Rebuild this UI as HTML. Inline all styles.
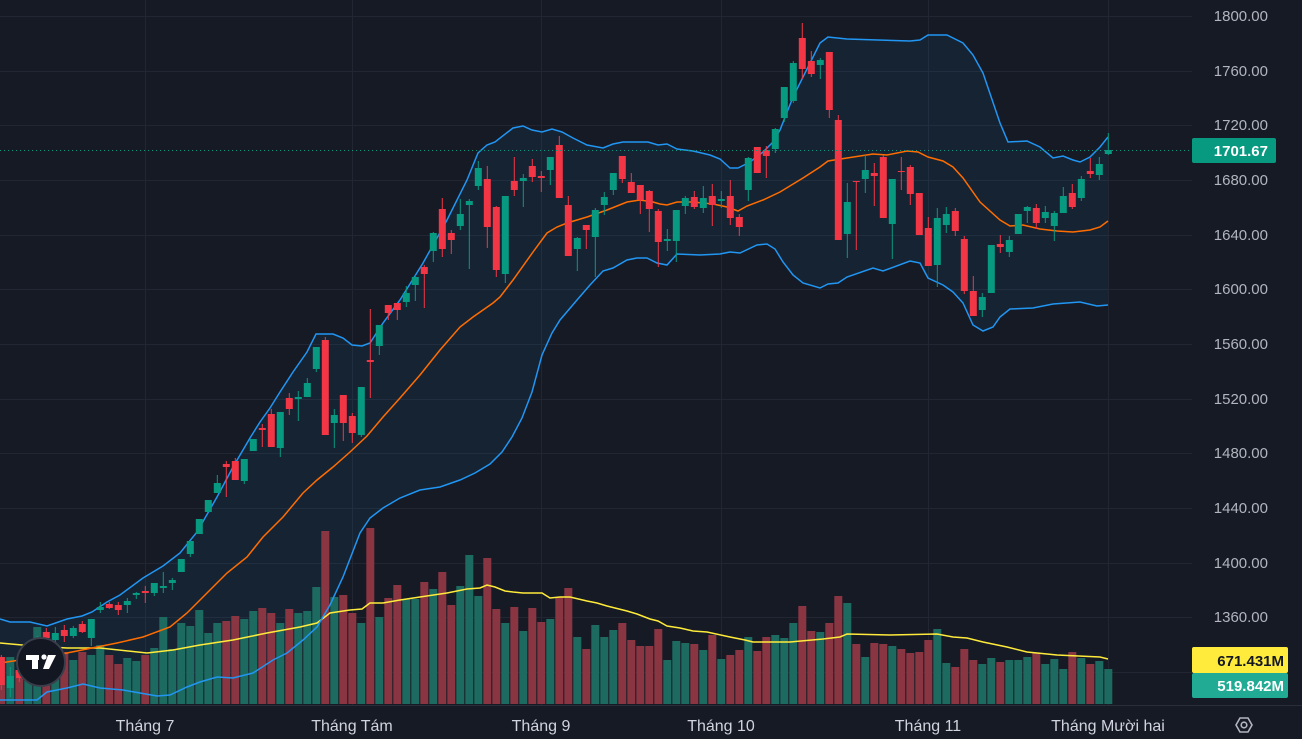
<!DOCTYPE html>
<html><head><meta charset="utf-8"><style>
html,body{margin:0;padding:0;background:#161a25;width:1302px;height:739px;overflow:hidden}
svg{display:block}
text{font-family:"Liberation Sans",sans-serif}
</style></head><body>
<svg id="s" width="1302" height="739" xmlns="http://www.w3.org/2000/svg"></svg>
<script>
const C=[
['r',657,685,655,690],['g',676,688,667,697],['r',670,678,665,682],['g',655,666,650,670],['g',640,652,636,656],['r',632,638,628,642],['g',633,640,627,642],['r',630,636,625,642],['g',628,636,626,638],['r',624,632,621,633],
['g',619,638,619,646],['g',607,610,602,613],['r',604,608,602,609],['r',605,610,602,615],['g',601,605,598,613],['g',593,595,592,599],['r',591,593,586,603],['g',583,593,583,596],['g',586,588,572,593],['g',580,583,578,590],
['g',559,572,559,572],['g',541,554,541,557],['g',519,534,519,534],['g',500,512,500,512],['g',483,493,475,493],['r',464,467,461,497],['r',461,480,458,480],['g',459,481,459,484],['g',439,451,439,451],['r',428,430,424,447],
['r',414,447,409,447],['g',412,448,412,457],['r',398,409,393,415],['g',397,399,391,421],['g',383,397,378,397],['g',347,369,347,372],['r',340,435,337,435],['g',415,423,409,448],['r',395,423,395,441],['r',416,433,413,443],
['g',387,435,387,437],['r',360,362,309,398],['g',325,346,325,355],['r',305,313,305,320],['r',303,310,303,320],['g',293,302,286,307],['g',277,285,275,301],['r',267,274,265,308],['g',233,251,232,262],['r',209,249,198,257],
['r',233,240,230,254],['g',214,226,199,230],['g',201,205,199,269],['g',168,186,161,190],['r',179,227,166,248],['r',207,270,206,277],['g',196,274,196,283],['r',181,190,157,196],['g',178,181,174,207],['r',166,177,159,182],
['r',176,178,171,192],['g',157,170,157,185],['r',145,198,136,198],['r',205,256,196,256],['g',238,249,237,271],['r',225,230,225,249],['g',210,237,208,277],['g',197,205,192,215],['g',173,190,173,195],['r',156,179,156,183],
['r',182,193,173,193],['r',185,200,185,214],['r',191,209,190,232],['r',211,242,209,267],['g',239,241,229,251],['g',210,241,210,262],['g',198,206,196,214],['r',197,207,191,209],['g',198,208,186,213],['r',196,205,184,226],
['g',199,201,191,208],['r',196,218,180,225],['r',217,227,214,236],['g',158,190,157,201],['r',147,173,147,173],['r',150,156,146,178],['g',129,149,128,153],['g',87,118,87,122],['g',63,101,61,103],['r',38,69,23,79],
['r',61,74,51,77],['g',60,65,58,79],['r',52,110,52,118],['r',120,240,115,240],['g',202,234,183,258],['r',181,182,181,250],['g',170,179,155,193],['r',173,176,163,206],['r',157,218,155,218],['g',179,224,179,259],
['r',171,172,157,190],['r',167,194,165,205],['r',193,235,193,235],['r',228,266,217,266],['g',218,265,208,287],['g',214,225,207,233],['r',211,231,208,236],['r',239,291,236,294],['r',291,316,276,316],['g',297,310,293,317],
['g',245,293,245,293],['r',244,247,235,253],['g',240,252,236,257],['g',214,234,214,234],['g',207,211,206,223],['r',208,223,204,229],['g',212,218,206,223],['g',213,226,211,241],['g',196,213,187,213],['r',193,207,184,209],
['g',179,198,176,201],['r',171,174,158,178],['g',164,175,157,180],['g',150,154,133,155]];
const V=[657,657,670,665,627,640,650,652,660,652,655,645,655,664,658,661,655,648,617,649,623,626,610,633,623,621,616,619,611,608,613,623,609,613,611,587,531,597,595,613,623,528,617,598,585,599,599,582,589,572,605,586,555,596,558,609,623,607,631,608,622,619,597,588,637,649,625,637,630,623,640,646,646,629,660,641,643,644,650,635,659,655,650,
637,651,637,635,638,623,606,631,632,623,596,603,644,657,643,644,646,649,653,652,640,629,663,667,649,660,664,658,662,660,660,657,653,664,659,669,652,658,664,661,669];
const up=[[0,619],[10,622],[30,622],[47,626],[67,619],[82,616],[92,612],[107,602],[120,595],[143,578],[163,566],[180,553],[197,532],[217,497],[233,467],[250,438],[260,422],[270,408],[280,392],[293,372],[307,352],[316,334],[333,334],[343,338],[352,345],[362,346],[370,343],[383,323],[400,300],[423,263],[447,220],[467,180],[478,153],[487,145],[495,142],[513,128],[523,126],[532,130],[542,132],[552,129],[562,132],[573,138],[587,145],[603,148],[613,144],[623,142],[648,142],[658,145],[667,144],[677,149],[693,151],[710,155],[720,159],[730,168],[738,168],[750,162],[763,152],[772,143],[780,130],[793,97],[820,43],[828,37],[847,39],[910,41],[920,40],[928,35],[947,35],[963,43],[973,55],[983,73],[1000,123],[1008,142],[1027,141],[1040,147],[1053,158],[1063,156],[1073,160],[1080,162],[1090,157],[1100,147],[1108,137]];
const lo=[[0,700],[37,700],[47,692],[67,688],[83,684],[100,688],[123,690],[140,693],[157,696],[170,695],[187,687],[200,682],[217,677],[233,678],[253,673],[273,660],[287,653],[303,640],[317,627],[330,605],[343,577],[360,533],[370,518],[383,508],[400,498],[420,490],[440,487],[460,480],[475,473],[490,464],[502,452],[512,437],[522,418],[532,392],[542,355],[552,333],[560,320],[577,300],[590,285],[603,271],[613,268],[627,260],[637,258],[647,258],[657,263],[667,265],[677,254],[700,255],[720,254],[730,252],[740,253],[757,245],[767,244],[775,249],[783,262],[793,275],[803,283],[820,288],[828,284],[838,283],[847,277],[873,268],[883,271],[910,261],[920,263],[928,278],[943,285],[953,292],[963,303],[973,325],[983,331],[993,327],[1000,317],[1010,309],[1033,308],[1053,304],[1080,302],[1097,306],[1108,305]];
const mid=[[0,663],[20,660],[67,653],[117,643],[143,637],[170,627],[187,613],[207,593],[227,573],[247,557],[263,537],[283,517],[303,493],[317,480],[333,467],[350,452],[367,436],[383,417],[400,398],[420,375],[440,350],[460,327],[473,317],[493,303],[500,297],[513,280],[533,252],[547,233],[557,227],[567,223],[587,217],[607,210],[627,202],[640,200],[653,202],[660,204],[667,205],[677,202],[693,202],[713,204],[727,207],[738,211],[747,206],[763,200],[780,192],[803,178],[820,167],[828,161],[847,158],[873,154],[887,155],[907,151],[918,152],[928,157],[943,161],[953,167],[963,178],[980,202],[1000,220],[1010,226],[1023,225],[1040,229],[1057,231],[1073,232],[1090,230],[1100,227],[1108,221]];
const vma=[[0,643],[33,646],[67,648],[100,648],[147,653],[173,650],[200,645],[233,640],[267,633],[300,627],[317,623],[330,613],[350,610],[362,609],[370,603],[383,603],[400,600],[420,597],[447,593],[467,589],[480,588],[487,585],[495,587],[505,591],[513,592],[523,593],[542,593],[550,598],[560,597],[570,597],[587,601],[597,603],[607,606],[627,611],[637,614],[650,619],[658,621],[667,626],[680,628],[693,631],[707,632],[730,637],[745,640],[753,642],[790,642],[823,639],[840,637],[847,634],[890,635],[937,634],[953,637],[967,638],[983,642],[1007,647],[1027,652],[1057,655],[1100,657],[1108,659]];
let h='';
const pts=a=>a.map(p=>p[0]+','+p[1]).join(' ');
// grid
const py=[16,71,125,180,235,289,344,399,453,508,563,617,672];
py.forEach(y=>h+=`<line x1="0" x2="1192" y1="${y+.5}" y2="${y+.5}" stroke="#222632" stroke-width="1"/>`);
[145,352,541,721,928,1108].forEach(x=>h+=`<line x1="${x+.5}" x2="${x+.5}" y1="0" y2="705" stroke="#222632" stroke-width="1"/>`);
// band fill
h+=`<polygon points="${pts(up)} ${pts(lo.slice().reverse())}" fill="rgba(33,150,243,0.07)"/>`;
// volume
V.forEach((t,i)=>{const x=1108.3-9*(123-i);const col=C[i][0]=='g'?'#1d6b60':'#8a3542';h+=`<rect x="${(x-4).toFixed(1)}" y="${t}" width="8" height="${704-t}" fill="${col}"/>`;});
h+=`<polyline points="${pts(vma)}" fill="none" stroke="#ffeb3b" stroke-width="1.5"/>`;
h+=`<polyline points="${pts(up)}" fill="none" stroke="#2196f3" stroke-width="1.5"/>`;
h+=`<polyline points="${pts(lo)}" fill="none" stroke="#2196f3" stroke-width="1.5"/>`;
h+=`<polyline points="${pts(mid)}" fill="none" stroke="#ff6d00" stroke-width="1.5"/>`;
// candles
C.forEach((c,i)=>{const x=1108.3-9*(123-i);const col=c[0]=='g'?'#089981':'#f23645';
h+=`<line x1="${x.toFixed(1)}" x2="${x.toFixed(1)}" y1="${c[3]}" y2="${c[4]}" stroke="${col}" stroke-width="1"/>`;
h+=`<rect x="${(x-3.5).toFixed(1)}" y="${c[1]}" width="7" height="${Math.max(1,c[2]-c[1])}" fill="${col}"/>`;});
// last price line
h+=`<line x1="0" x2="1192" y1="150.5" y2="150.5" stroke="#089981" stroke-width="1" stroke-dasharray="1,3"/>`;
// axis area
h+=`<rect x="1192" y="0" width="110" height="739" fill="#161a25"/>`;
h+=`<line x1="0" x2="1302" y1="705.5" y2="705.5" stroke="#2a2e39"/>`;
const lab=['1800.00','1760.00','1720.00','1680.00','1640.00','1600.00','1560.00','1520.00','1480.00','1440.00','1400.00','1360.00'];
lab.forEach((l,k)=>h+=`<text x="1268" y="${py[k]+5}" text-anchor="end" font-size="15" fill="#b2b5be">${l}</text>`);
h+=`<rect x="1192" y="138" width="84" height="25" rx="2" fill="#089981"/><text x="1268" y="156" text-anchor="end" font-size="15" font-weight="bold" fill="#fff">1701.67</text>`;
h+=`<rect x="1192" y="647" width="96" height="26" rx="2" fill="#ffeb3b"/><text x="1284" y="666" text-anchor="end" font-size="15" font-weight="bold" fill="#131722">671.431M</text>`;
h+=`<rect x="1192" y="673" width="96" height="25" rx="2" fill="#22ab94"/><text x="1284" y="691" text-anchor="end" font-size="15" font-weight="bold" fill="#fff">519.842M</text>`;
[['Tháng 7',145],['Tháng Tám',352],['Tháng 9',541],['Tháng 10',721],['Tháng 11',928],['Tháng Mười hai',1108]].forEach(a=>h+=`<text x="${a[1]}" y="731" text-anchor="middle" font-size="16" fill="#d1d4dc">${a[0]}</text>`);
h+=`<polygon points="1236,725 1240,718 1248,718 1252,725 1248,732 1240,732" fill="none" stroke="#b2b5be" stroke-width="1.6"/><circle cx="1244" cy="725" r="2.8" fill="none" stroke="#b2b5be" stroke-width="1.6"/>`;
// logo
h+=`<circle cx="41" cy="662" r="24" fill="#131722" stroke="#3a3e4a" stroke-width="2"/>`;
h+=`<rect x="26" y="655" width="13" height="5" fill="#fff"/><rect x="32" y="655" width="6" height="14" fill="#fff"/><circle cx="44" cy="657" r="2.6" fill="#fff"/><polygon points="48,655 56,655 49,669 43,669" fill="#fff"/>`;
document.getElementById('s').innerHTML=h;
</script>
</body></html>
